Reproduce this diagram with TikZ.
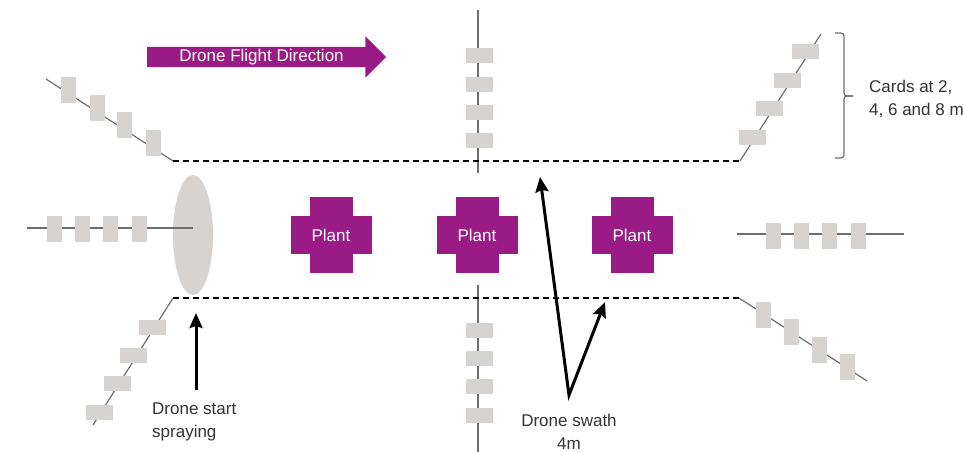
\documentclass[tikz,border=0pt]{standalone}
\usepackage{fontspec}
\setmainfont{Liberation Sans}
\usetikzlibrary{shapes.geometric, shapes.arrows, arrows.meta, positioning}
\definecolor{plantpurple}{HTML}{9B1B86}
\definecolor{cardgrey}{HTML}{D6D3D0}
\definecolor{linegrey}{HTML}{6E6E6E}
\definecolor{notegrey}{HTML}{333333}
\newcommand{\diagfont}{\fontsize{17}{23}\selectfont}
\tikzset{
    card/.style={rectangle, fill=cardgrey, minimum width=27pt, minimum height=15pt, inner sep=0pt},
    vcard/.style={card, minimum width=15pt, minimum height=26pt},
    cardline/.style={linegrey, line width=1.2pt},
    swathedge/.style={black, line width=2pt, dash pattern=on 6pt off 4pt},
    plant/.style={rectangle, fill=plantpurple, text=white, minimum width=81pt, minimum height=38pt, inner sep=0pt, font=\diagfont},
    plantarm/.style={rectangle, fill=plantpurple, minimum width=43pt, minimum height=76pt, inner sep=0pt},
    spray/.style={ellipse, fill=cardgrey, minimum width=40pt, minimum height=120pt, inner sep=0pt},
    flight/.style={single arrow, fill=plantpurple, text=white, font=\diagfont, single arrow head extend=10.5pt, single arrow tip angle=90, minimum height=239pt, text height=12pt, text depth=3.5pt, inner ysep=2.25pt, inner xsep=0pt},
    note/.style={text=notegrey, font=\diagfont, align=left, inner sep=0pt},
    arrow/.style={line width=3pt, -{Stealth[length=15pt, width=13pt, inset=2pt]}}
}

\begin{document}
\begin{tikzpicture}[x=1pt, y=-1pt]
    \useasboundingbox (0,0) rectangle (963,452);

    % spray cloud at the start
    \node (spray) [spray] at (193,235) {};

    % ends of the card lines
    \coordinate (tlS) at (46,79);   \coordinate (tlE) at (173,161);
    \coordinate (trS) at (740,161); \coordinate (trE) at (821,34);
    \coordinate (blS) at (173,298); \coordinate (blE) at (93,425);
    \coordinate (brS) at (739,298); \coordinate (brE) at (867,381);
    \coordinate (lS) at (27,228);   \coordinate (lE) at (193,228);
    \coordinate (rS) at (737,234);  \coordinate (rE) at (904,234);
    \coordinate (tS) at (478,10);   \coordinate (tE) at (478,173);
    \coordinate (bS) at (478,285);  \coordinate (bE) at (478,452);

    \draw [cardline] (tlS) -- (tlE);
    \draw [cardline] (trS) -- (trE);
    \draw [cardline] (blS) -- (blE);
    \draw [cardline] (brS) -- (brE);
    \draw [cardline] (lS) -- (lE);
    \draw [cardline] (rS) -- (rE);
    \draw [cardline] (tS) -- (tE);
    \draw [cardline] (bS) -- (bE);

    % swath edges
    \draw [swathedge] (tlE) -- (trS);
    \draw [swathedge] (blS) -- (brS);

    % cards
    \foreach \n/\x/\y in {tl1/68/90, tl2/97/108, tl3/124/125, tl4/153/143,
                          br1/763/315, br2/791/332, br3/819/350, br4/847/367,
                          l1/54/229, l2/82/229, l3/110/229, l4/139/229,
                          r1/773/236, r2/801/236, r3/829/236, r4/858/236}
        \node (\n) [vcard] at (\x,\y) {};
    \foreach \n/\x/\y in {tr1/805/52, tr2/787/80, tr3/769/108, tr4/752/137,
                          bl1/152/327, bl2/133/355, bl3/117/383, bl4/99/412,
                          t1/479/56, t2/479/84, t3/479/112, t4/479/140,
                          b1/479/330, b2/479/358, b3/479/386, b4/479/415}
        \node (\n) [card] at (\x,\y) {};

    % plants
    \foreach \n/\x in {p1/331, p2/477, p3/632} {
        \node (\n-arm) [plantarm] at (\x,235) {};
        \node (\n) [plant] at (\x,235) {Plant};
    }

    \node (flight) [flight] at (261.5,57) {Drone Flight Direction};

    % brace and card note
    \draw [linegrey, line width=1.2pt, rounded corners=3pt] (835,33) -| (844,96) -- (853,96);
    \draw [linegrey, line width=1.2pt, rounded corners=3pt] (853,96) -- (844,96) |- (835,158);
    \node (cardslbl) [note, anchor=west] at (869,99) {Cards at 2,\\4, 6 and 8 m};

    % start of spraying
    \coordinate (starttip) at (196,313);
    \node (startlbl) [note, anchor=north west] at (152,403) {Drone start\\spraying};
    \draw [arrow] ([yshift=13pt]startlbl.north -| starttip) -- (starttip);

    % swath
    \coordinate (swathv) at (569,395);
    \coordinate (swathA) at (540,177);
    \coordinate (swathB) at (605,302);
    \draw [arrow, {Stealth[length=15pt, width=13pt, inset=2pt]}-{Stealth[length=15pt, width=13pt, inset=2pt]}, miter limit=20] (swathA) -- (swathv) -- (swathB);
    \node (swathlbl) [note] at (569,420) {Drone swath};
    \node (swathwidth) [note, below=11pt of swathlbl] {4m};
\end{tikzpicture}
\end{document}
